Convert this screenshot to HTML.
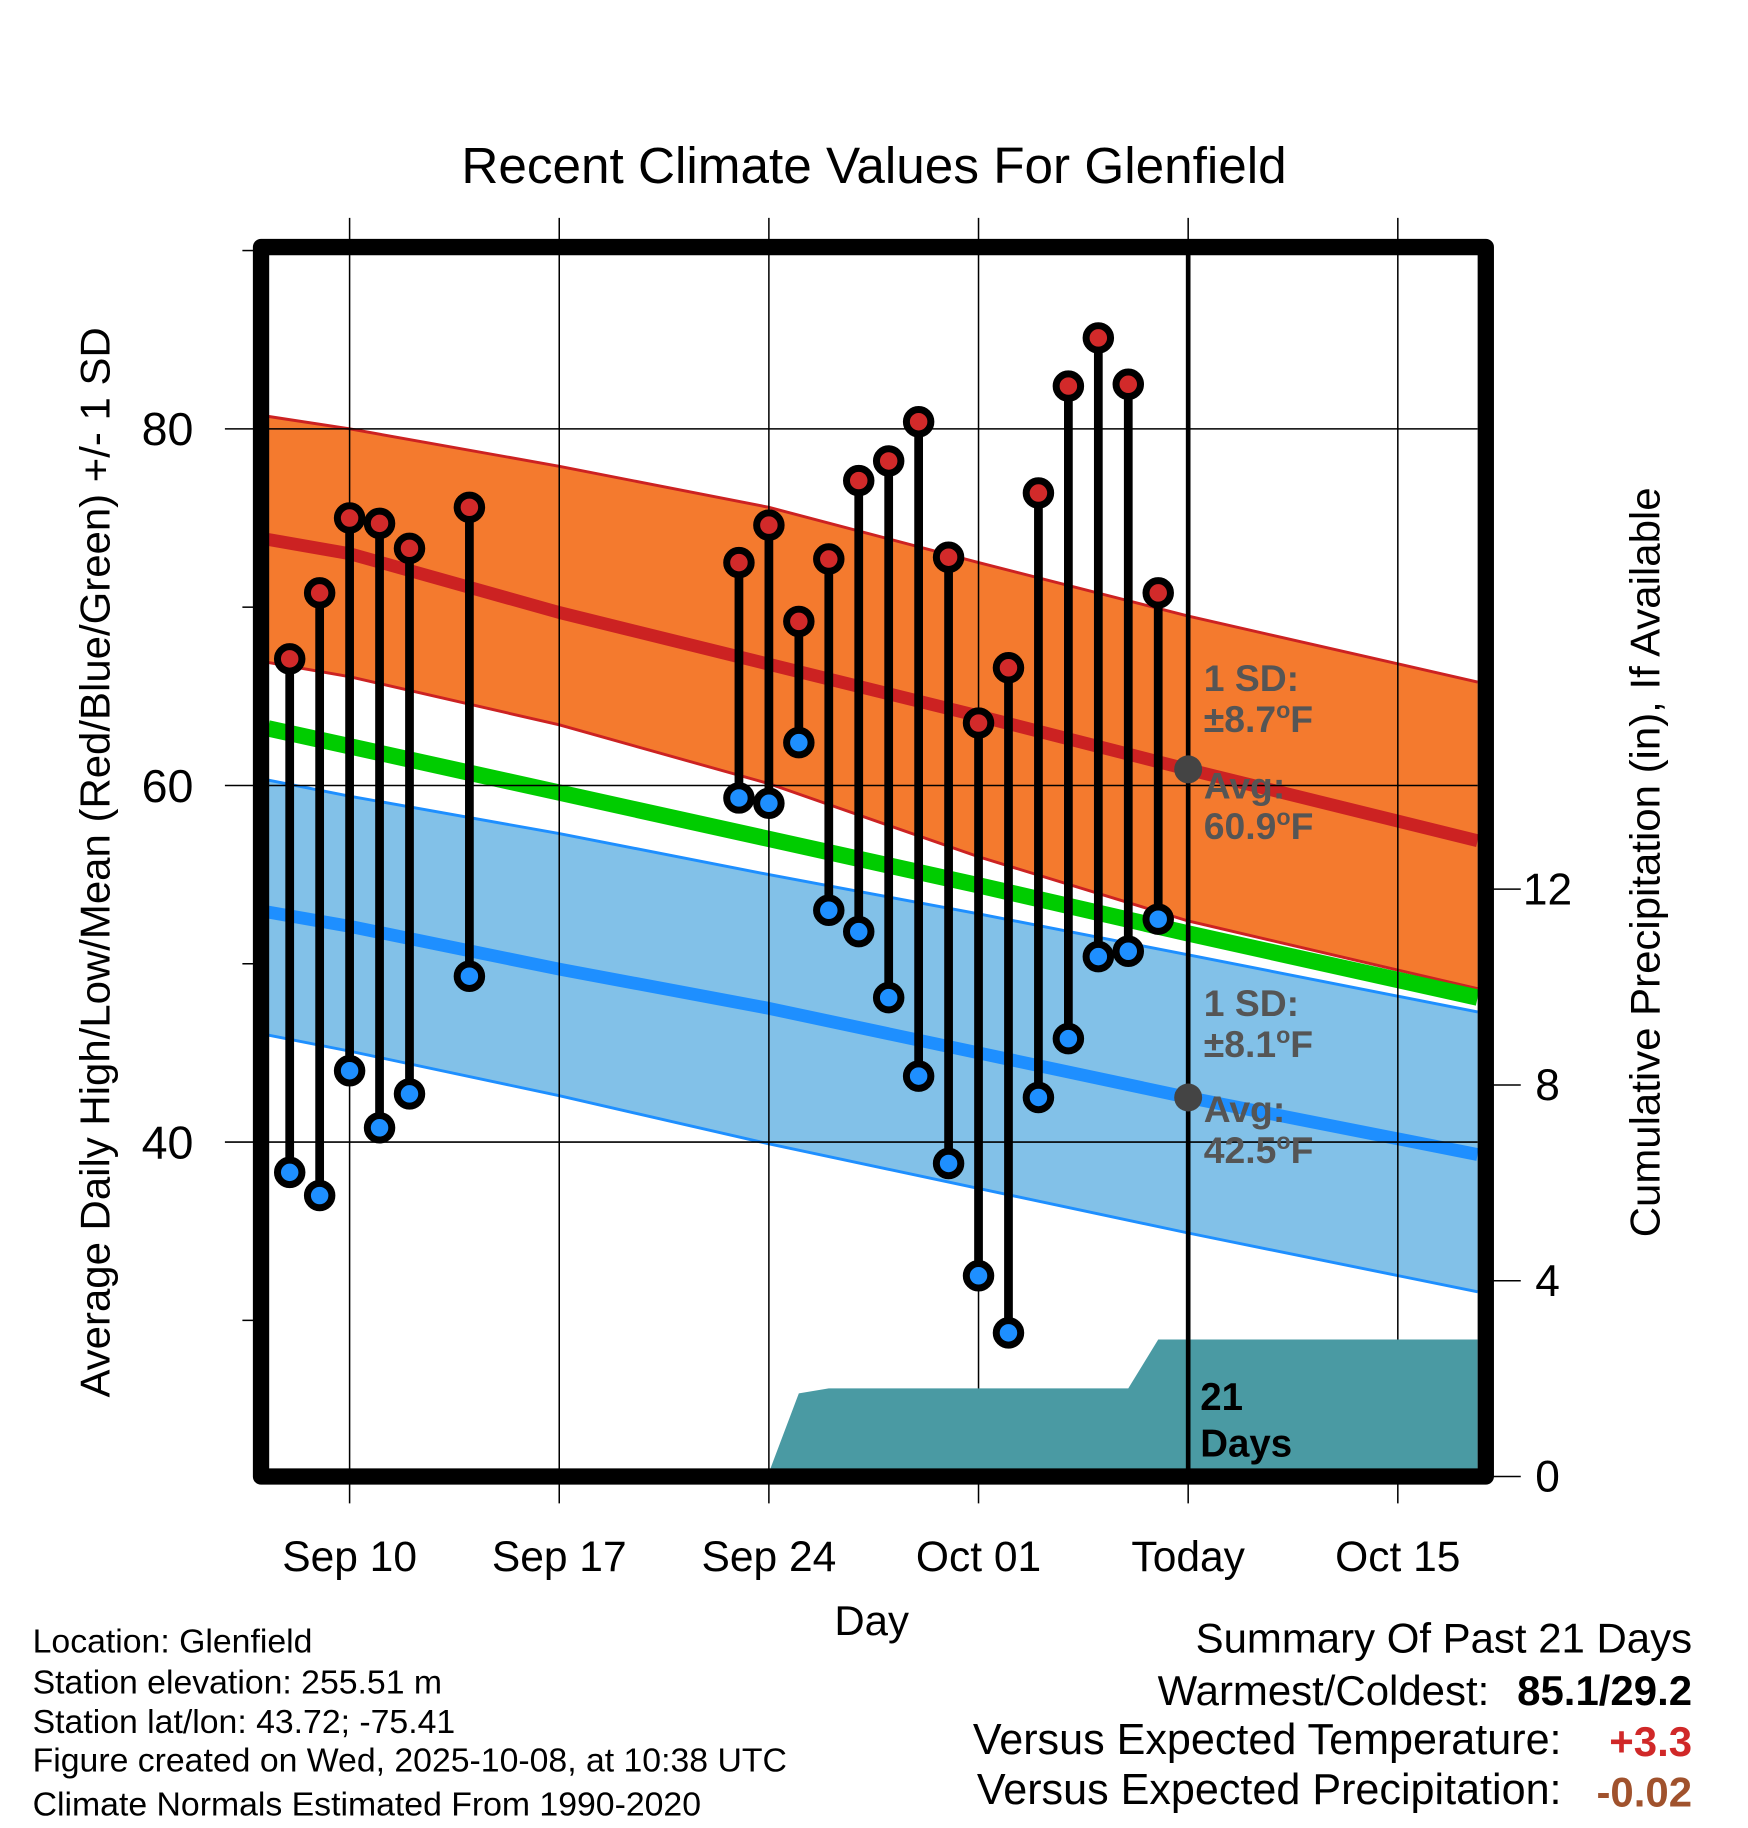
<!DOCTYPE html>
<html><head><meta charset="utf-8"><style>
html,body{margin:0;padding:0;background:#fff;}
svg{display:block;font-family:"Liberation Sans",Arial,sans-serif;}
</style></head><body>
<svg id="chart" width="1748" height="1828" viewBox="0 0 1500 1568.6" preserveAspectRatio="none" xmlns="http://www.w3.org/2000/svg">
<g id="bands"></g>
<g id="grid"></g>
<g id="precip"></g>
<g id="series"></g>
<g id="frame"></g>
<g id="labels"></g>
</svg>
<script>
// ---------- data ----------
const obsDays = [-2,-1,0,1,2,4,13,14,15,16,17,18,19,20,21,22,23,24,25,26,27];
const highs = [67.1,70.8,75.0,74.7,73.3,75.6,72.5,74.6,69.2,72.7,77.1,78.2,80.4,72.8,63.5,66.6,76.4,82.4,85.1,82.5,70.8];
const lows = [38.3,37.0,44.0,40.8,42.7,49.3,59.3,59.0,62.4,53.0,51.8,48.1,43.7,38.8,32.5,29.3,42.5,45.8,50.4,50.7,52.5];
const normDays = [-3,0,7,14,21,28,38];
const normHigh = [73.8,73.0,69.7,66.8,63.9,60.9,56.9];
const highUpper = [80.7,80.0,77.9,75.6,72.5,69.5,65.8];
const highLower = [66.9,66.1,63.4,60.1,56.0,52.4,48.6];
const normMean = [63.2,62.2,59.6,57.0,54.4,51.7,48.1];
const normLow = [52.9,52.1,49.7,47.5,45.0,42.5,39.3];
const lowUpper = [60.3,59.4,57.3,55.0,52.8,50.5,47.3];
const lowLower = [46.0,45.1,42.6,39.9,37.4,34.9,31.6];
const precipDays = [-3,12.9,13,14,15,16,26,27,38];
const precipCum = [0,0,0.05,0.08,1.7,1.8,1.8,2.8,2.8];
const xTickDays = [0,7,14,21,28,35];
const xTickLabels = ["Sep 10","Sep 17","Sep 24","Oct 01","Today","Oct 15"];
const yTicks = [80,60,40];
const yMinor = [90,70,50,30];
const pTicks = [0,4,8,12];

// ---------- scales ----------
const L=224,R=1275,T=212,B=1267;
const clipL=230,clipR=1268;
const x = d => 300 + d*25.7;
const y = t => 980 - (t-40)*15.3;
const yp = p => 1267 - p*42;
const NS="http://www.w3.org/2000/svg";
function mk(parent,tag,attrs){const e=document.createElementNS(NS,tag);for(const k in attrs)e.setAttribute(k,attrs[k]);document.getElementById(parent).appendChild(e);return e;}
const cx = d => Math.min(clipR,Math.max(clipL,x(d)));
function pts(arr){return normDays.map((d,i)=>cx(d)+','+y(arr[i])).join(' ');}

let e;
e=mk('bands','polygon',{points:pts(highUpper)+' '+normDays.slice().reverse().map((d,i)=>cx(d)+','+y(highLower[highLower.length-1-i])).join(' '),fill:'#f47a2e'});


e=mk('bands','polygon',{points:pts(lowUpper)+' '+normDays.slice().reverse().map((d,i)=>cx(d)+','+y(lowLower[lowLower.length-1-i])).join(' '),fill:'#82c1e8'});


[[highUpper,'#cc2222',2.5,'high-upper-edge'],[highLower,'#cc2222',2.5,'high-lower-edge'],[lowUpper,'#1e8fff',2.5,'low-upper-edge'],[lowLower,'#1e8fff',2.5,'low-lower-edge'],[normMean,'#00cc00',14,'normal-mean-line'],[normHigh,'#cc2222',11,'normal-high-line'],[normLow,'#1e8fff',11,'normal-low-line']].forEach(a=>{
  e=mk('bands','polyline',{points:pts(a[0]),fill:'none',stroke:a[1],'stroke-width':a[2],'stroke-linejoin':'round'});
  
  
});

xTickDays.forEach((d,i)=>{
  e=mk('grid','line',{x1:x(d),x2:x(d),y1:187,y2:1290,stroke:'#000','stroke-width':1.3});
  
  
  e=mk('labels','text',{x:x(d),y:1348,'font-size':36.5,'text-anchor':'middle'});e.textContent=xTickLabels[i];
  
  
});
yTicks.forEach(t=>{
  e=mk('grid','line',{x1:193,x2:clipR,y1:y(t),y2:y(t),stroke:'#000','stroke-width':1.3});
  
  
  e=mk('labels','text',{x:166,y:y(t)+14,'font-size':40,'text-anchor':'end'});e.textContent=t;
  
  
});
yMinor.forEach(t=>{
  e=mk('grid','line',{x1:208,x2:220,y1:y(t),y2:y(t),stroke:'#000','stroke-width':1.3});
  
  
});
pTicks.forEach(p=>{
  e=mk('grid','line',{x1:1280,x2:1305,y1:yp(p),y2:yp(p),stroke:'#000','stroke-width':1.3});
  
  
  e=mk('labels','text',{x:1328,y:yp(p)+13,'font-size':38,'text-anchor':'middle'});e.textContent=p;
  
  
});

let pp=precipDays.map((d,i)=>cx(d)+','+yp(precipCum[i])).join(' ');
e=mk('precip','polygon',{points:pp+' '+cx(38)+','+yp(0),fill:'#4a9aa3'});



e=mk('series','line',{x1:x(28),x2:x(28),y1:T,y2:B,stroke:'#000','stroke-width':4});



obsDays.forEach((d,i)=>{
  e=mk('series','line',{x1:x(d),x2:x(d),y1:y(highs[i]),y2:y(lows[i]),stroke:'#000','stroke-width':7.5});
  
  
  e=mk('series','circle',{cx:x(d),cy:y(highs[i]),r:10.5,fill:'#d22a2a',stroke:'#000','stroke-width':6});
  
  
  e=mk('series','circle',{cx:x(d),cy:y(lows[i]),r:10.5,fill:'#1e8fff',stroke:'#000','stroke-width':6});
  
  
});
[[normHigh[5],'today-normal-high-dot'],[normLow[5],'today-normal-low-dot']].forEach(a=>{
  e=mk('series','circle',{cx:x(28),cy:y(a[0]),r:12,fill:'#444'});
  
  
});

e=mk('frame','rect',{x:L,y:T,width:R-L,height:B-T,fill:'none',stroke:'#000','stroke-width':14,'stroke-linejoin':'round'});


</script>
<script>
(function(){
const NS="http://www.w3.org/2000/svg";
const g=document.getElementById('labels');
function txt(name,x,y,size,content,opts){
  const e=document.createElementNS(NS,'text');
  e.setAttribute('x',x);e.setAttribute('y',y);e.setAttribute('font-size',size);
  for(const k in (opts||{}))e.setAttribute(k,opts[k]);
  e.innerHTML=content;
  
  
  g.appendChild(e);return e;
}
txt('chart-title',750,157,44,'Recent Climate Values For Glenfield',{'text-anchor':'middle'});
txt('y-axis-title',94,740,36,'Average Daily High/Low/Mean (Red/Blue/Green) +/- 1 SD',{'text-anchor':'middle',transform:'rotate(-90 94 740)'});
txt('y2-axis-title',1424,740,36,'Cumulative Precipitation (in), If Available',{'text-anchor':'middle',transform:'rotate(-90 1424 740)'});
txt('x-axis-title',748,1403,36,'Day',{'text-anchor':'middle'});
const gs={'font-weight':'bold',fill:'#555'};
const sup='<tspan dy="-12" font-size="20">o</tspan><tspan dy="12">F</tspan>';
txt('high-sd-label',1033,593,32,'1 SD:',gs);
txt('high-sd-value',1033,628,32,'±8.7'+sup,gs);
txt('high-avg-label',1033,685,32,'Avg:',gs);
txt('high-avg-value',1033,720,32,'60.9'+sup,gs);
txt('low-sd-label',1033,872,32,'1 SD:',gs);
txt('low-sd-value',1033,907,32,'±8.1'+sup,gs);
txt('low-avg-label',1033,963,32,'Avg:',gs);
txt('low-avg-value',1033,998,32,'42.5'+sup,gs);
txt('days-count',1030,1210,33,'21',{'font-weight':'bold'});
txt('days-label',1030,1250,33,'Days',{'font-weight':'bold'});
const info=['Location: Glenfield','Station elevation: 255.51 m','Station lat/lon: 43.72; -75.41','Figure created on Wed, 2025-10-08, at 10:38 UTC','Climate Normals Estimated From 1990-2020'];
const ys=[1418,1453,1487,1520,1558];
info.forEach((s,i)=>txt('station-info-line',28,ys[i],29,s));
txt('summary-title',1452,1418,36,'Summary Of Past 21 Days',{'text-anchor':'end'});
txt('warmest-coldest-label',1278,1463,36,'Warmest/Coldest:',{'text-anchor':'end'});
txt('warmest-coldest-value',1452,1463,36,'85.1/29.2',{'text-anchor':'end','font-weight':'bold'});
txt('temp-anomaly-label',1340,1505,37,'Versus Expected Temperature:',{'text-anchor':'end'});
txt('temp-anomaly-value',1452,1507,36,'+3.3',{'text-anchor':'end','font-weight':'bold',fill:'#d02828'});
txt('precip-anomaly-label',1340,1548,37,'Versus Expected Precipitation:',{'text-anchor':'end'});
txt('precip-anomaly-value',1452,1550,36,'-0.02',{'text-anchor':'end','font-weight':'bold',fill:'#a0522d'});
})();
</script>
</body></html>
